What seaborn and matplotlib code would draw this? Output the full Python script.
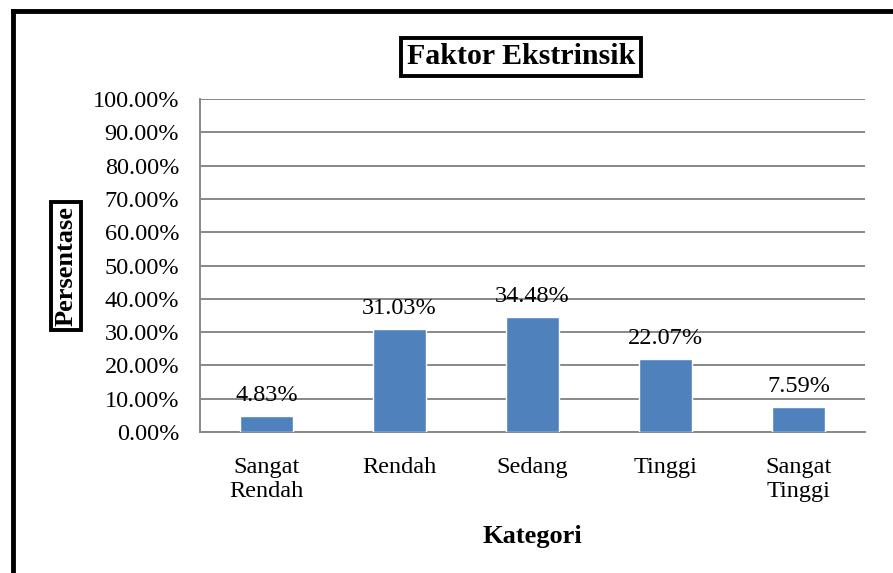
import matplotlib
matplotlib.use("Agg")
import matplotlib.pyplot as plt
import seaborn as sns
import pandas as pd
from matplotlib.lines import Line2D

# Data
kategori = ["Sangat\nRendah", "Rendah", "Sedang", "Tinggi", "Sangat\nTinggi"]
persentase = [4.83, 31.03, 34.48, 22.07, 7.59]
yticks = [0, 10, 20, 30, 40, 50, 60, 70, 80, 90, 100]

df = pd.DataFrame({"Kategori": kategori, "Persentase": persentase})

sns.set_style("white")
plt.rcParams["font.family"] = ["Liberation Serif", "DejaVu Serif"]
plt.rcParams["text.color"] = "black"
plt.rcParams["xtick.labelcolor"] = "black"
plt.rcParams["ytick.labelcolor"] = "black"
fs = 17.5
grid_col = "#888888"

fig = plt.figure(figsize=(8.93, 5.73), dpi=100)
ax = fig.add_axes([200 / 893, 1 - 432 / 573, 665 / 893, 333 / 573])

sns.barplot(data=df, x="Kategori", y="Persentase", color="#4F81BD",
            saturation=1, width=0.4, ax=ax, zorder=3)

ax.set_ylim(0, 100)
ax.set_yticks(yticks)
ax.set_yticklabels([f"{v:.2f}%" for v in yticks], fontsize=fs)
ax.set_xticks(range(len(kategori)))
ax.set_xticklabels(kategori, fontsize=fs, linespacing=1.2)
ax.set_xlim(-0.5, len(kategori) - 0.5)

ax.yaxis.grid(True, color=grid_col, linewidth=1.4, zorder=0)
ax.set_axisbelow(True)
for side in ["top", "right"]:
    ax.spines[side].set_visible(False)
for side in ["left", "bottom"]:
    ax.spines[side].set_color(grid_col)
    ax.spines[side].set_linewidth(1.4)
ax.tick_params(axis="y", length=5, width=1.4, color=grid_col, pad=10)
ax.tick_params(axis="x", length=0, pad=18)

ax.bar_label(ax.containers[0], labels=[f"{v:.2f}%" for v in persentase],
             fontsize=fs, padding=7, color="black")

ax.set_ylabel("")
ax.set_xlabel("Kategori", fontsize=19, fontweight="bold", color="black")
ax.xaxis.set_label_coords(0.5, -0.28)

# title and y label in boxes
fig.text(521 / 893, 1 - 57 / 573, "Faktor Ekstrinsik", fontsize=21.5,
         fontweight="bold", ha="center", va="center",
         bbox=dict(boxstyle="square,pad=0.2", fc="white", ec="black", lw=2.8))
fig.text(66 / 893, 1 - 266 / 573, "Persentase", fontsize=19,
         fontweight="bold", ha="center", va="center", rotation=90,
         bbox=dict(boxstyle="square,pad=0.15", fc="white", ec="black", lw=2.8))

# outer frame (left and top only)
fig.add_artist(Line2D([12.5 / 893, 12.5 / 893], [0, 1 - 11 / 573], color="black",
                      lw=3.5, transform=fig.transFigure, solid_capstyle="projecting"))
fig.add_artist(Line2D([12.5 / 893, 1], [1 - 11 / 573, 1 - 11 / 573], color="black",
                      lw=3.5, transform=fig.transFigure, solid_capstyle="projecting"))

fig.savefig("out.png", dpi=100, facecolor="white")
